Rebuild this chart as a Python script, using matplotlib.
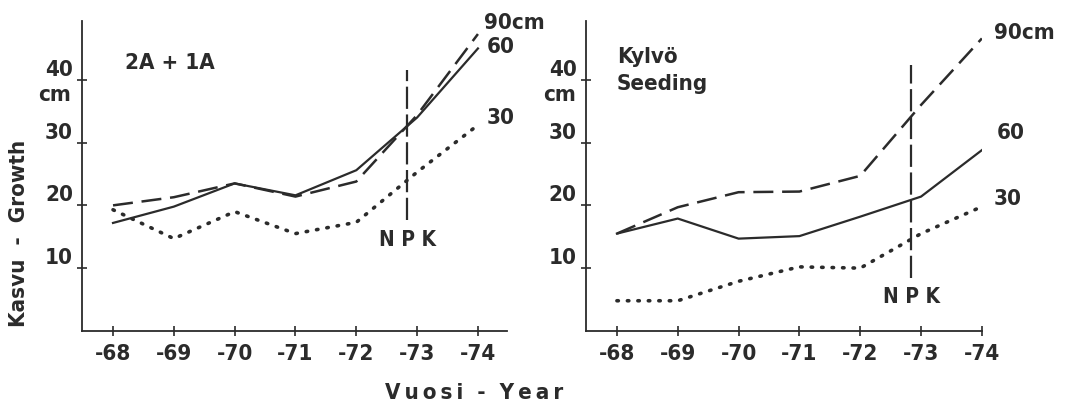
import matplotlib
matplotlib.use("Agg")
import matplotlib.pyplot as plt

plt.rcParams['font.family'] = ['DejaVu Sans']
plt.rcParams['font.stretch'] = 'condensed'
plt.rcParams['font.weight'] = 'bold'

# Data
years = [68, 69, 70, 71, 72, 73, 74]
year_labels = ["-68", "-69", "-70", "-71", "-72", "-73", "-74"]
y_ticks = [10, 20, 30, 40]

left_90 = [20.0, 21.3, 23.5, 21.4, 23.8, 34.4, 47.3]
left_60 = [17.2, 19.8, 23.5, 21.6, 25.6, 34.0, 45.0]
left_30 = [19.3, 14.7, 19.0, 15.5, 17.3, 25.3, 32.8]

right_90 = [15.5, 19.7, 22.1, 22.2, 24.7, 36.0, 46.6]
right_60 = [15.5, 17.9, 14.7, 15.1, 18.2, 21.4, 28.8]
right_30 = [4.8, 4.8, 7.9, 10.2, 10.0, 15.5, 19.8]

npk_year = 72.84
ink = "#2b2b2b"

fig = plt.figure(figsize=(10.79, 4.09), dpi=100)
ax1 = fig.add_axes([0.076, 0.191, 0.394, 0.758])
ax2 = fig.add_axes([0.543, 0.191, 0.367, 0.758])


def draw_panel(ax, s90, s60, s30, xmax, npk_range, npk_text_y):
    ax.plot(years, s90, color=ink, lw=1.8, dashes=(8, 3.5))
    ax.plot(years, s60, color=ink, lw=1.6)
    ax.plot(years, s30, color=ink, lw=2.6, linestyle=(0, (0.4, 2.5)),
            dash_capstyle='round')
    ax.plot([npk_year, npk_year], npk_range, color=ink, lw=1.6, dashes=(10, 2.5))
    ax.text(npk_year, npk_text_y, "N P K", ha='center', va='center',
            fontsize=15, color=ink)

    ax.set_xlim(67.49, xmax)
    ax.set_ylim(0, 49.4)
    ax.set_xticks(years)
    ax.set_xticklabels(year_labels)
    ax.set_yticks(y_ticks)
    ax.set_yticklabels([str(t) for t in y_ticks])
    for lab in ax.get_yticklabels():
        lab.set_verticalalignment('bottom')
    ax.tick_params(axis='both', direction='inout', length=7, width=1.2,
                   colors=ink, labelsize=16)
    ax.tick_params(axis='y', pad=3)
    ax.tick_params(axis='x', pad=6)
    for side in ['top', 'right']:
        ax.spines[side].set_visible(False)
    for side in ['left', 'bottom']:
        ax.spines[side].set_color(ink)
        ax.spines[side].set_linewidth(1.3)
    ax.text(-0.025, 37.6, "cm", transform=ax.get_yaxis_transform(),
            ha='right', va='center', fontsize=16, color=ink)


draw_panel(ax1, left_90, left_60, left_30, 74.48, [17.7, 41.6], 14.5)
draw_panel(ax2, right_90, right_60, right_30, 74.0, [8.4, 42.4], 5.4)

ax1.text(68.2, 42.7, "2A + 1A", fontsize=16, color=ink, va='center')
ax2.text(68.0, 41.5, "Kylvö\nSeeding", fontsize=16, color=ink, va='center',
         linespacing=1.4)

ax1.text(74.1, 49.0, "90cm", fontsize=16, color=ink, va='center')
ax1.text(74.15, 45.3, "60", fontsize=16, color=ink, va='center')
ax1.text(74.15, 34.0, "30", fontsize=16, color=ink, va='center')
ax2.text(74.2, 47.5, "90cm", fontsize=16, color=ink, va='center', clip_on=False)
ax2.text(74.25, 31.5, "60", fontsize=16, color=ink, va='center', clip_on=False)
ax2.text(74.2, 21.0, "30", fontsize=16, color=ink, va='center', clip_on=False)

fig.text(0.018, 1 - 233 / 409, "Kasvu  -  Growth", rotation=90, ha='center',
         va='center', fontsize=16, color=ink)
fig.text(474 / 1079, 1 - 393 / 409,
         "V\u2009u\u2009o\u2009s\u2009i  -  Y\u2009e\u2009a\u2009r",
         ha='center', va='center', fontsize=16, color=ink)

fig.savefig("out.png", dpi=100, facecolor='white')
